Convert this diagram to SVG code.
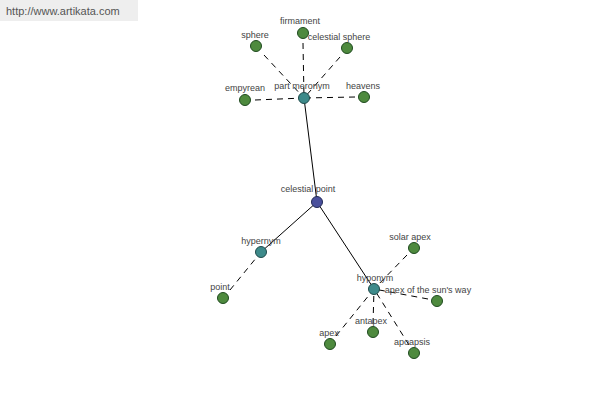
<svg xmlns="http://www.w3.org/2000/svg" width="600" height="400" viewBox="0 0 600 400">
<style>
.lbl{font-family:"Liberation Sans",Arial,sans-serif;font-size:9px;fill:#444;text-anchor:middle}
.leaf{fill:#4e8a3e;stroke:#1f4a1f;stroke-width:1}
.rel{fill:#3d8a8a;stroke:#1f4a4a;stroke-width:1}
.root{fill:#4a509c;stroke:#222a55;stroke-width:1}
.solid{stroke:#000;stroke-width:1;fill:none}
.dash{stroke:#000;stroke-width:1;fill:none;stroke-dasharray:6,5}
</style>
<rect x="0" y="0" width="138" height="21" fill="#eeeeee"/>
<text x="6" y="15" font-family="Liberation Sans,Arial,sans-serif" font-size="11" fill="#555">http://www.artikata.com</text>
<g id="connectors">
<line class="solid" x1="317" y1="202" x2="304" y2="98"/>
<line class="solid" x1="317" y1="202" x2="261" y2="252"/>
<line class="solid" x1="317" y1="202" x2="374" y2="289"/>
<line class="dash" x1="264" y1="55" x2="304" y2="98"/>
<line class="dash" x1="303" y1="43" x2="304" y2="98"/>
<line class="dash" x1="340" y1="57" x2="304" y2="98"/>
<line class="dash" x1="255" y1="100" x2="304" y2="98"/>
<line class="dash" x1="355" y1="97" x2="304" y2="98"/>
<line class="dash" x1="230" y1="290" x2="261" y2="252"/>
<line class="dash" x1="407" y1="255" x2="374" y2="289"/>
<line class="dash" x1="428" y1="299" x2="374" y2="289"/>
<line class="dash" x1="336" y1="336" x2="374" y2="289"/>
<line class="dash" x1="373" y1="324" x2="374" y2="289"/>
<line class="dash" x1="409" y1="345" x2="374" y2="289"/>
</g>
<g id="celestial-point"><circle class="root" cx="317" cy="202" r="5.5"/><text class="lbl" x="308" y="192">celestial point</text></g>
<g id="part-meronym"><circle class="rel" cx="304" cy="98" r="5.5"/><text class="lbl" x="302" y="89">part meronym</text></g>
<g id="hypernym"><circle class="rel" cx="261" cy="252" r="5.5"/><text class="lbl" x="261" y="244">hypernym</text></g>
<g id="hyponym"><circle class="rel" cx="374" cy="289" r="5.5"/><text class="lbl" x="375" y="281">hyponym</text></g>
<g id="sphere"><circle class="leaf" cx="256" cy="46" r="5.5"/><text class="lbl" x="255" y="38">sphere</text></g>
<g id="firmament"><circle class="leaf" cx="303" cy="33" r="5.5"/><text class="lbl" x="300" y="24">firmament</text></g>
<g id="celestial-sphere"><circle class="leaf" cx="347" cy="48" r="5.5"/><text class="lbl" x="339" y="40">celestial sphere</text></g>
<g id="empyrean"><circle class="leaf" cx="245" cy="100" r="5.5"/><text class="lbl" x="245" y="91">empyrean</text></g>
<g id="heavens"><circle class="leaf" cx="364" cy="97" r="5.5"/><text class="lbl" x="363" y="89">heavens</text></g>
<g id="point"><circle class="leaf" cx="223" cy="298" r="5.5"/><text class="lbl" x="220" y="290">point</text></g>
<g id="solar-apex"><circle class="leaf" cx="414" cy="248" r="5.5"/><text class="lbl" x="410" y="240">solar apex</text></g>
<g id="apex-of-the-suns-way"><circle class="leaf" cx="437" cy="301" r="5.5"/><text class="lbl" x="428" y="293">apex of the sun's way</text></g>
<g id="apex"><circle class="leaf" cx="330" cy="344" r="5.5"/><text class="lbl" x="329" y="336">apex</text></g>
<g id="antapex"><circle class="leaf" cx="373" cy="332" r="5.5"/><text class="lbl" x="371" y="324">antapex</text></g>
<g id="apoapsis"><circle class="leaf" cx="414" cy="353" r="5.5"/><text class="lbl" x="412" y="345">apoapsis</text></g>
</svg>
